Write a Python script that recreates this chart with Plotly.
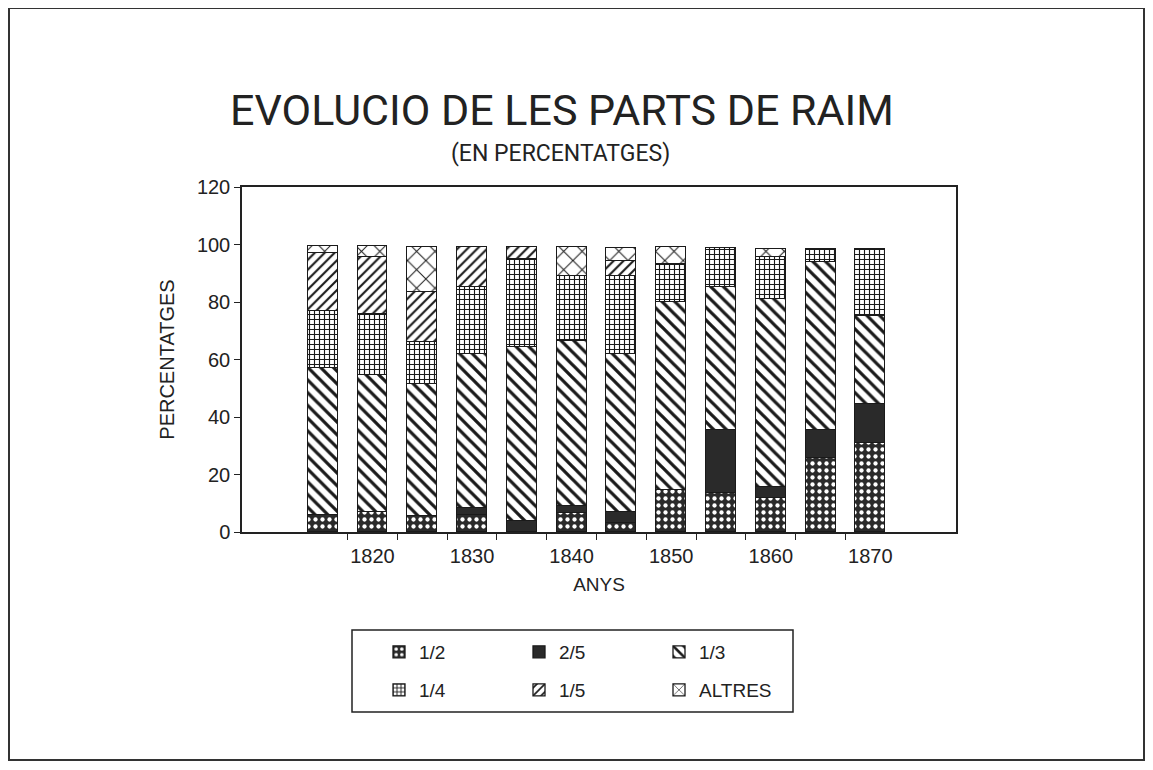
import plotly.graph_objects as go

years = [1815, 1820, 1825, 1830, 1835, 1840, 1845, 1850, 1855, 1860, 1865, 1870]
s_1_2 = [6.0, 7.0, 5.5, 6.0, 0.0, 6.5, 3.0, 14.6, 13.4, 11.7, 25.6, 30.8]
s_2_5 = [0.0, 0.0, 0.0, 2.5, 4.0, 2.5, 4.0, 0.0, 22.0, 4.0, 9.8, 13.8]
s_1_3 = [51.0, 47.5, 46.0, 53.5, 60.3, 57.6, 55.0, 65.3, 49.7, 65.3, 58.4, 30.7]
s_1_4 = [20.0, 21.3, 14.5, 23.1, 30.6, 22.5, 27.1, 13.3, 13.6, 14.5, 4.6, 23.1]
s_1_5 = [20.0, 19.7, 17.4, 14.1, 4.3, 0.0, 5.2, 0.0, 0.0, 0.0, 0.0, 0.0]
s_altres = [2.5, 4.0, 15.8, 0.0, 0.0, 10.1, 4.4, 5.8, 0.0, 2.9, 0.0, 0.0]

series_names = ["1/2", "2/5", "1/3", "1/4", "1/5", "ALTRES"]
series_vals = [s_1_2, s_2_5, s_1_3, s_1_4, s_1_5, s_altres]
label_years = years[1::2]
tick_years = [y + 2.5 for y in years[:-1]]

DARK = "#2a2a2a"
INK = "#1a1a1a"
styles = {
    "1/2": dict(color=DARK, pattern=dict(shape=".", fgcolor="white", fgopacity=1, size=7,
                                         solidity=0.3, fillmode="overlay")),
    "2/5": dict(color=DARK, pattern=dict(shape="")),
    "1/3": dict(color="white", pattern=dict(shape="\\", fgcolor=INK, fgopacity=1, size=9,
                                            solidity=0.36, fillmode="overlay")),
    "1/4": dict(color="white", pattern=dict(shape="+", fgcolor=INK, fgopacity=1, size=5,
                                            solidity=0.4, fillmode="overlay")),
    "1/5": dict(color="white", pattern=dict(shape="/", fgcolor=INK, fgopacity=1, size=7,
                                            solidity=0.3, fillmode="overlay")),
    "ALTRES": dict(color="white", pattern=dict(shape="x", fgcolor=INK, fgopacity=1, size=13,
                                               solidity=0.15, fillmode="overlay")),
}
legend_of = {"1/2": "legend", "2/5": "legend", "1/3": "legend",
             "1/4": "legend2", "1/5": "legend2", "ALTRES": "legend2"}

FONT = "Liberation Sans Narrow, Roboto, Liberation Sans, sans-serif"
AXFONT = "Liberation Sans, Arial, sans-serif"

fig = go.Figure()
for name, vals in zip(series_names, series_vals):
    st = styles[name]
    fig.add_trace(go.Bar(
        x=years, y=vals, name=name, width=3.0,
        marker=dict(color=st["color"], pattern=st["pattern"],
                    line=dict(color=INK, width=1.3)),
        legend=legend_of[name],
    ))

# page has an 8px body margin; work in page coordinates and convert
OFF = 8
W, H = 1153 - 2 * OFF, 770 - 2 * OFF
L, R, T, B = 242, 956, 187, 532  # plot area in page pixels
pw, ph = R - L, B - T

def px(x):
    return (x - L) / pw

def py(y):
    return (B - y) / ph

fig.update_layout(
    width=W, height=H,
    margin=dict(l=L - OFF, r=W - (R - OFF), t=T - OFF, b=H - (B - OFF)),
    paper_bgcolor="white", plot_bgcolor="white",
    barmode="stack", bargap=0,
    showlegend=True,
    font=dict(family=AXFONT, color="#222"),
    xaxis=dict(range=[1806.9, 1878.6], tickvals=label_years,
               ticktext=[str(v) for v in label_years], ticks="",
               ticklabelstandoff=5,
               minor=dict(tickmode="array", tickvals=tick_years, ticks="outside",
                          ticklen=6, tickwidth=1.3, tickcolor="#222", showgrid=False),
               showline=True, linecolor="#222", linewidth=1.5, mirror=True,
               showgrid=False, zeroline=False,
               tickfont=dict(size=20, family=AXFONT, color="#222"),
               title=dict(text="ANYS", font=dict(size=19, family=AXFONT, color="#222"), standoff=12)),
    yaxis=dict(range=[0, 120], tickvals=[0, 20, 40, 60, 80, 100, 120],
               ticks="outside", ticklen=6, tickwidth=1.3, tickcolor="#222",
               showline=True, linecolor="#222", linewidth=1.5, mirror=True,
               showgrid=False, zeroline=False,
               tickfont=dict(size=20, family=AXFONT, color="#222"),
               title=dict(text="PERCENTATGES", font=dict(size=20, family=AXFONT, color="#222"), standoff=17)),
    legend=dict(orientation="h", x=px(379), y=py(633), xanchor="left", yanchor="top",
                entrywidth=95, entrywidthmode="pixels", traceorder="normal",
                font=dict(size=19, family=AXFONT, color="#222"), bgcolor="rgba(0,0,0,0)",
                itemwidth=30),
    legend2=dict(orientation="h", x=px(379), y=py(671), xanchor="left", yanchor="top",
                 entrywidth=95, entrywidthmode="pixels", traceorder="normal",
                 font=dict(size=19, family=AXFONT, color="#222"), bgcolor="rgba(0,0,0,0)",
                 itemwidth=30),
    shapes=[
        dict(type="rect", xref="paper", yref="paper",
             x0=px(352), x1=px(793), y0=py(712), y1=py(630),
             line=dict(color="#222", width=1.5)),
        dict(type="rect", xref="paper", yref="paper",
             x0=px(9), x1=px(1144), y0=py(760), y1=py(8),
             line=dict(color="#333", width=2)),
    ],
    annotations=[
        dict(text="EVOLUCIO DE LES PARTS DE RAIM", xref="paper", yref="paper",
             x=px(562), y=py(110), xanchor="center", yanchor="middle", showarrow=False,
             font=dict(size=43, family=FONT, color="#222")),
        dict(text="(EN PERCENTATGES)", xref="paper", yref="paper",
             x=px(560), y=py(153), xanchor="center", yanchor="middle", showarrow=False,
             font=dict(size=23, family=FONT, color="#222")),
    ],
)

fig.write_html("out.html")
